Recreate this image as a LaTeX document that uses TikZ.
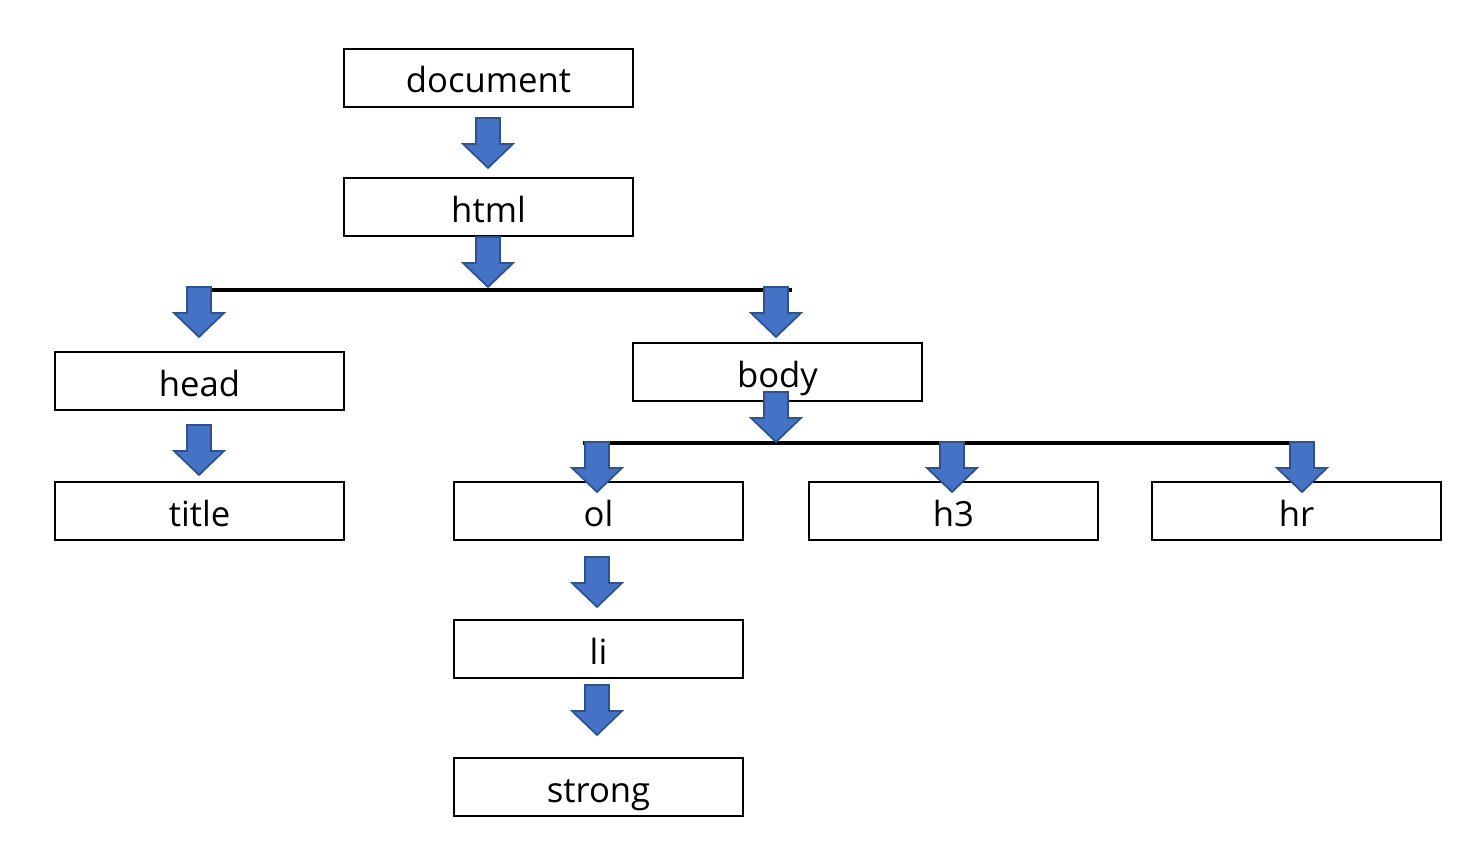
\documentclass[tikz,border=0pt]{standalone}
\usepackage{fontspec}
\setmainfont{Open Sans}
\begin{document}
\begin{tikzpicture}[x=0.75pt,y=-0.75pt,
  box/.style={draw=black,line width=1.5pt,minimum width=289*0.75pt,minimum height=58*0.75pt,inner sep=0pt,font=\fontsize{26}{30}\selectfont,anchor=north west,text height=25pt,text depth=2.5pt},
  bar/.style={line width=3.2pt,draw=black},
  blockarrow/.pic={\draw[fill=arrowfill,draw=arrowline,line width=1.3pt,line join=miter] (-12,0)--(12,0)--(12,26)--(25,26)--(0,50)--(-25,26)--(-12,26)--cycle;}]
\definecolor{arrowfill}{HTML}{4472C4}
\definecolor{arrowline}{HTML}{2F528F}
\useasboundingbox (0,0) rectangle (1461,867);
% boxes
\node[box] (document) at (343,48) {document};
\node[box] (html) at (343,177) {html};
\node[box] (head) at (54,351) {head};
\node[box] (title) at (54,481) {title};
\node[box] (body) at (632,342) {body};
\node[box] (ol) at (453,481) {ol};
\node[box] (h3) at (808,481) {h3};
\node[box] (hr) at (1151,481) {hr};
\node[box] (li) at (453,619) {li};
\node[box] (strong) at (453,757) {strong};
% bars
\coordinate (b1l) at (212,290);
\coordinate (b1r) at (792,290);
\coordinate (b2l) at (583,443);
\coordinate (b2r) at (1310,443);
\draw[bar] (b1l) -- (b1r);
\draw[bar] (b2l) -- (b2r);
% arrows
\pic at (488,118) {blockarrow};
\pic at (488,237) {blockarrow};
\pic at (199,287) {blockarrow};
\pic at (776,287) {blockarrow};
\pic at (776,392) {blockarrow};
\pic at (597,442) {blockarrow};
\pic at (952,442) {blockarrow};
\pic at (1302,442) {blockarrow};
\pic at (199,425) {blockarrow};
\pic at (597,557) {blockarrow};
\pic at (597,685) {blockarrow};
\end{tikzpicture}
\end{document}
